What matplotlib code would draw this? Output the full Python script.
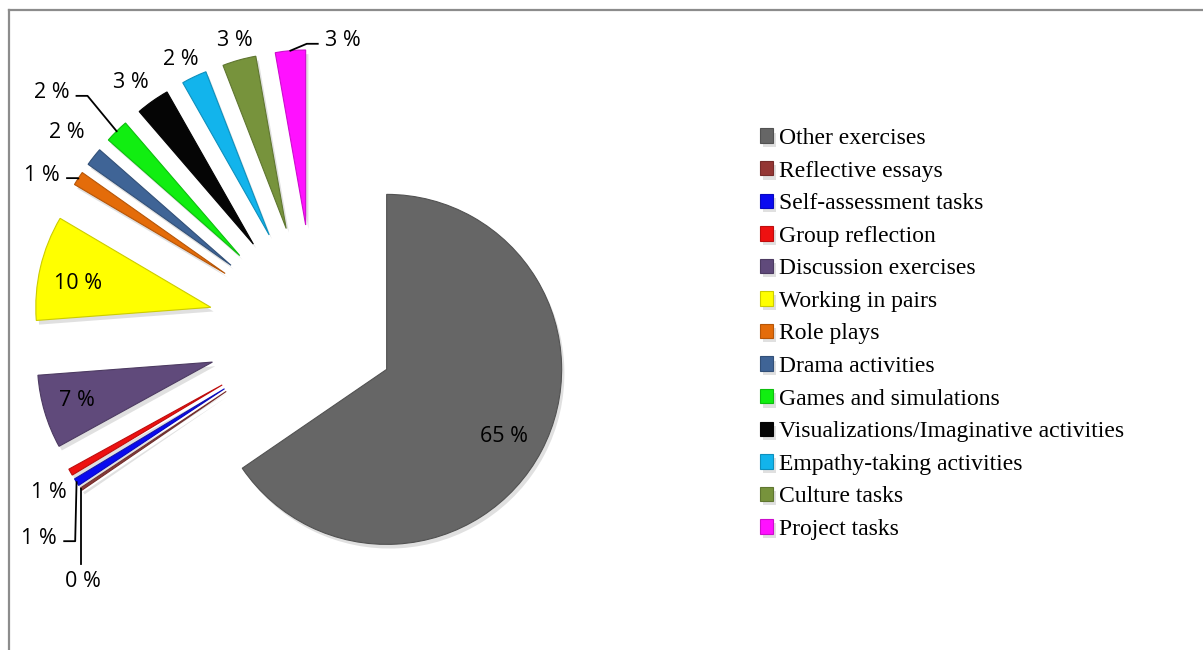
import matplotlib

matplotlib.use("Agg")

import matplotlib.patheffects as pe
import matplotlib.pyplot as plt
import numpy as np
from matplotlib.colors import to_rgb
from matplotlib.lines import Line2D

# shares in percent (clockwise from 12 o'clock)
categories = [
    "Other exercises",
    "Reflective essays",
    "Self-assessment tasks",
    "Group reflection",
    "Discussion exercises",
    "Working in pairs",
    "Role plays",
    "Drama activities",
    "Games and simulations",
    "Visualizations/Imaginative activities",
    "Empathy-taking activities",
    "Culture tasks",
    "Project tasks",
]
shares = [65.4, 0.24, 0.70, 0.62, 6.79, 9.68, 1.30, 1.69, 2.20, 3.10, 2.33, 3.10, 2.78]
colors = [
    "#666666", "#943634", "#0a0af0", "#ee1111", "#604a7b", "#ffff00", "#e46c0a",
    "#3f6496", "#11ee11", "#050505", "#12b4ec", "#77933c", "#ff11ff",
]

W, H = 1203, 650
center = (315, H - 331.6)
radius = 175
# pie explode is in data units (pixels here)
explode = [81] + [107] * 12

# data labels inside these slices, as fraction of the radius
inside = {0: 0.76, 4: 0.81, 5: 0.77}
# label nudges in pixels (dx, dy downwards) and leader style
nudges = {
    1: (27, 71), 2: (6, 35), 3: (4, 0), 4: (0, -7), 5: (-2, 2), 6: (7, 8), 7: (-3, -11),
    8: (-26, -22), 9: (-4, 1), 10: (0, 5), 11: (4, 4), 12: (37, 15),
}
leaders = {1: "v", 2: "left", 6: "left", 8: "left", 12: "right"}
TEXT_DROP = 5  # glyphs sit high in their box; draw a bit lower

fig = plt.figure(figsize=(W / 100, H / 100), dpi=100)
ax = fig.add_axes([0, 0, 1, 1])

wedges, _ = ax.pie(
    shares,
    colors=colors,
    explode=explode,
    radius=radius,
    center=center,
    startangle=90,
    counterclock=False,
    wedgeprops=dict(linewidth=0.8),
    frame=True,
)

shadow = [pe.SimplePatchShadow(offset=(2, -3), alpha=0.18, shadow_rgbFace="#555555"), pe.Normal()]
for w, c in zip(wedges, colors):
    w.set_edgecolor(tuple(0.8 * np.array(to_rgb(c))))
    w.set_path_effects(shadow)

total = sum(shares)
pct_font = dict(family=["Open Sans", "DejaVu Sans"], fontsize=15.5, color="black", va="center")
for i, w in enumerate(wedges):
    mid = np.deg2rad((w.theta1 + w.theta2) / 2)
    d = np.array([np.cos(mid), np.sin(mid)])
    cx, cy = w.center
    text = f"{round(shares[i] / total * 100):.0f} %"
    dx, dy = nudges.get(i, (0, 0))
    if i in inside:
        x, y = np.array([cx, cy]) + inside[i] * radius * d
        ax.text(x + dx, y - dy - TEXT_DROP, text, ha="center", **pct_font)
        continue
    x, y = np.array([cx, cy]) + (radius + 30) * d
    x, y = x + dx, y - dy
    sx, sy = np.array([cx, cy]) + radius * d
    kind = leaders.get(i)
    if kind == "left":
        ax.text(x, y - TEXT_DROP, text, ha="right", **pct_font)
        ax.plot([sx, x + 18, x + 7], [sy, y - 8, y - 8], color="black", lw=1.3)
    elif kind == "right":
        ax.text(x, y - TEXT_DROP, text, ha="left", **pct_font)
        ax.plot([sx, x - 18, x - 7], [sy, y - 8, y - 8], color="black", lw=1.3)
    elif kind == "v":
        ax.text(x, y - TEXT_DROP, text, ha="center", **pct_font)
        ax.plot([sx, sx], [sy, y + 13], color="black", lw=1.3)
    else:
        ax.text(x, y - TEXT_DROP, text, ha="center", **pct_font)

ax.set_xlim(0, W)
ax.set_ylim(0, H)
ax.set_aspect("equal")
ax.axis("off")

leg = ax.legend(
    wedges,
    categories,
    loc="upper left",
    bbox_to_anchor=(760 / W, 1 - 128 / H),
    bbox_transform=fig.transFigure,
    frameon=False,
    prop=dict(family="Liberation Serif", size=17),
    handlelength=0.56,
    handleheight=0.56,
    handletextpad=0.25,
    labelspacing=0.49,
    borderpad=0,
    borderaxespad=0,
)

# chart frame (only top and left edges visible in the crop)
fig.add_artist(Line2D([8.5 / W, 8.5 / W], [0, 1 - 10 / H], color="#8c8c8c", lw=1.6))
fig.add_artist(Line2D([8.5 / W, 1], [1 - 10 / H, 1 - 10 / H], color="#8c8c8c", lw=1.6))

fig.savefig("out.png", dpi=100)
